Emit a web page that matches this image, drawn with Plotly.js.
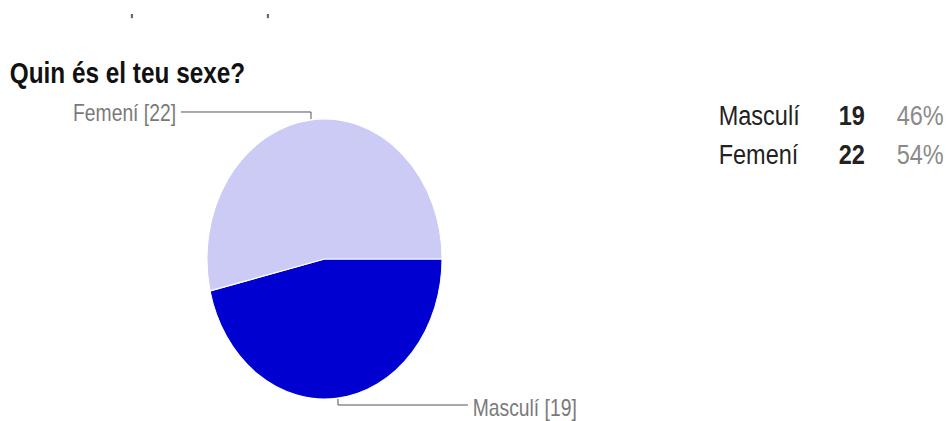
<!DOCTYPE html>
<html>
<head>
<meta charset="utf-8">
<script src="https://cdn.plot.ly/plotly-3.0.1.min.js"></script>
<style>
  html, body { margin: 0; padding: 0; background: #fff; }
  #chart { width: 946px; height: 421px; }
</style>
</head>
<body>
<div id="chart"></div>
<script>
// ---- data ----
var title = 'Quin és el teu sexe?';
var categories = ['Masculí', 'Femení'];
var counts = [19, 22];
var sliceColors = ['#0000d0', '#cbcbf6'];

// ---- helpers (pixel -> paper) ----
var W = 946, H = 421;
function px(x) { return x / W; }
function py(y) { return 1 - y / H; }

var total = counts.reduce(function (a, b) { return a + b; }, 0);
var percents = counts.map(function (v) { return Math.round(v / total * 100) + '%'; });

// The reference picture is squeezed horizontally; reproduce that look.
var SQUEEZE = 0.84;

// pie geometry (pixels): circle of radius rx, later stretched vertically to ry
var cx = 324.5, cy = 259, rx = 117.5, ry = 140;

var trace = {
  type: 'pie',
  labels: categories,
  values: counts,
  sort: false,
  direction: 'clockwise',
  rotation: 90,
  textinfo: 'none',
  hoverinfo: 'skip',
  showlegend: false,
  marker: { colors: sliceColors, line: { color: '#ffffff', width: 1 } },
  domain: { x: [px(cx - rx), px(cx + rx)], y: [py(cy + rx), py(cy - rx)] }
};

var annotations = [];
var anchorPx = [];   // pixel x about which each annotation is squeezed
var shapes = [];
var baseFont = 'Liberation Sans, Arial, Helvetica, sans-serif';

function addText(x, y, anchor, text, size, color) {
  annotations.push({
    xref: 'paper', yref: 'paper', x: px(x), y: py(y), xanchor: anchor, yanchor: 'middle',
    text: text, showarrow: false, font: { family: baseFont, size: size, color: color }
  });
  anchorPx.push(x);
}

// title
addText(8, 73, 'left', '<b>' + title + '</b>', 29, '#111111');

// stray marks at top
[132, 268].forEach(function (x) { addText(x, 20, 'center', "<b>'</b>", 16, '#444'); });

// slice labels with elbow leader lines
var labelPos = [
  { tx: 471, ty: 407.5, anchor: 'left',
    path: 'M338,399 L338,405 L468,405' },
  { tx: 178, ty: 112.5, anchor: 'right',
    path: 'M181,112 L311,112 L311,119' }
];
function pathToPaper(p) {
  return p.replace(/(-?\d+(?:\.\d+)?),(-?\d+(?:\.\d+)?)/g, function (m, a, b) {
    return px(+a).toFixed(5) + ',' + py(+b).toFixed(5);
  });
}
categories.forEach(function (c, i) {
  var lp = labelPos[i];
  addText(lp.tx, lp.ty, lp.anchor, c + ' [' + counts[i] + ']', 23, '#7a7a7a');
  shapes.push({
    type: 'path', xref: 'paper', yref: 'paper', path: pathToPaper(lp.path),
    line: { color: '#555555', width: 1 }
  });
});

// summary table on the right
var rowY = [115, 154];
categories.forEach(function (c, i) {
  addText(717, rowY[i], 'left', c, 28, '#222');
  addText(837, rowY[i], 'left', '<b>' + counts[i] + '</b>', 28, '#222');
  addText(895, rowY[i], 'left', percents[i], 28, '#8a8a8a');
});

var layout = {
  width: W, height: H,
  margin: { l: 0, r: 0, t: 0, b: 0, pad: 0 },
  paper_bgcolor: '#ffffff', plot_bgcolor: '#ffffff',
  showlegend: false,
  annotations: annotations,
  shapes: shapes
};

Plotly.newPlot('chart', [trace], layout, { staticPlot: true, displayModeBar: false }).then(function (gd) {
  // stretch the pie vertically into an ellipse, around its own centre
  var cd0 = gd.calcdata[0][0];
  var k = ry / cd0.r;
  var c = cd0.cy;
  var layer = gd.querySelector('.pielayer');
  if (layer) {
    layer.setAttribute('transform', 'translate(0,' + c + ') scale(1,' + k + ') translate(0,' + (-c) + ')');
  }
  // squeeze texts horizontally about their anchor
  var groups = gd.querySelectorAll('g.annotation');
  groups.forEach(function (g) {
    var idx = +g.getAttribute('data-index');
    var x0 = anchorPx[idx];
    if (x0 === undefined) return;
    g.setAttribute('transform', 'translate(' + x0 + ',0) scale(' + SQUEEZE + ',1) translate(' + (-x0) + ',0)');
  });
});
</script>
</body>
</html>
